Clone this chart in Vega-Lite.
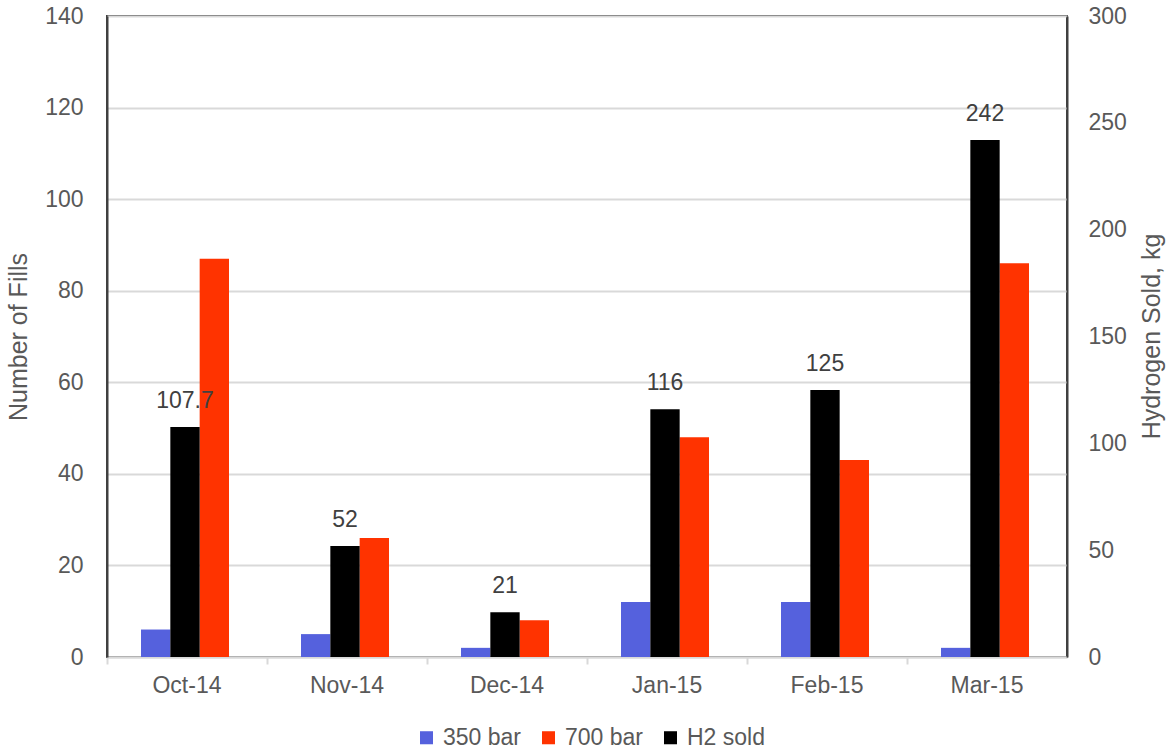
{
  "$schema": "https://vega.github.io/schema/vega-lite/v6.json",
  "width": 960,
  "height": 641,
  "autosize": {"type": "none"},
  "padding": {"left": 107, "top": 16, "right": 103, "bottom": 93},
  "config": {
    "font": "Liberation Sans",
    "view": {"stroke": "#404040", "strokeWidth": 2},
    "axis": {"labelFont": "Liberation Sans", "titleFont": "Liberation Sans", "labelColor": "#595959", "titleColor": "#595959", "labelFontSize": 23, "titleFontSize": 25, "titleFontWeight": "normal"},
    "legend": {"labelFont": "Liberation Sans", "labelColor": "#595959", "labelFontSize": 23}
  },
  "data": {
    "values": [
      {"month": "Oct-14", "series": "350 bar", "value": 6},
      {"month": "Oct-14", "series": "700 bar", "value": 87},
      {"month": "Oct-14", "series": "H2 sold", "value": 107.7, "label": "107.7"},
      {"month": "Nov-14", "series": "350 bar", "value": 5},
      {"month": "Nov-14", "series": "700 bar", "value": 26},
      {"month": "Nov-14", "series": "H2 sold", "value": 52, "label": "52"},
      {"month": "Dec-14", "series": "350 bar", "value": 2},
      {"month": "Dec-14", "series": "700 bar", "value": 8},
      {"month": "Dec-14", "series": "H2 sold", "value": 21, "label": "21"},
      {"month": "Jan-15", "series": "350 bar", "value": 12},
      {"month": "Jan-15", "series": "700 bar", "value": 48},
      {"month": "Jan-15", "series": "H2 sold", "value": 116, "label": "116"},
      {"month": "Feb-15", "series": "350 bar", "value": 12},
      {"month": "Feb-15", "series": "700 bar", "value": 43},
      {"month": "Feb-15", "series": "H2 sold", "value": 125, "label": "125"},
      {"month": "Mar-15", "series": "350 bar", "value": 2},
      {"month": "Mar-15", "series": "700 bar", "value": 86},
      {"month": "Mar-15", "series": "H2 sold", "value": 242, "label": "242"}
    ]
  },
  "encoding": {
    "x": {
      "field": "month", "type": "nominal",
      "sort": ["Oct-14", "Nov-14", "Dec-14", "Jan-15", "Feb-15", "Mar-15"],
      "scale": {"paddingInner": 0, "paddingOuter": 0},
      "axis": {"title": null, "labelAngle": 0, "bandPosition": 0, "ticks": true, "tickSize": 7, "tickColor": "#d9d9d9", "tickWidth": 2, "domainColor": "#d9d9d9", "domainWidth": 2, "labelPadding": 10, "grid": false}
    },
    "xOffset": {
      "field": "series", "type": "nominal",
      "scale": {"domain": ["350 bar", "H2 sold", "700 bar"], "paddingInner": 0, "paddingOuter": 0, "range": [34, 122]}
    },
    "color": {
      "field": "series", "type": "nominal",
      "scale": {"domain": ["350 bar", "700 bar", "H2 sold"], "range": ["#5561DD", "#FF3300", "#000000"]},
      "legend": {"title": null, "orient": "none", "legendX": 308, "legendY": 710, "direction": "horizontal", "symbolType": "square", "symbolSize": 170, "symbolStrokeWidth": 0, "columnPadding": 15, "labelOffset": 5}
    }
  },
  "layer": [
    {
      "transform": [{"filter": "datum.series != 'H2 sold'"}],
      "mark": {"type": "bar"},
      "encoding": {
        "y": {
          "field": "value", "type": "quantitative",
          "scale": {"domain": [0, 140]},
          "axis": {"title": "Number of Fills", "orient": "left", "values": [0, 20, 40, 60, 80, 100, 120, 140], "ticks": false, "domainColor": "#404040", "domainWidth": 2, "gridColor": "#d9d9d9", "gridWidth": 2, "labelPadding": 24, "titlePadding": 13}
        }
      }
    },
    {
      "transform": [{"filter": "datum.series == 'H2 sold'"}],
      "encoding": {
        "y": {
          "field": "value", "type": "quantitative",
          "scale": {"domain": [0, 300]},
          "axis": {"title": "Hydrogen Sold, kg", "orient": "right", "values": [0, 50, 100, 150, 200, 250, 300], "ticks": false, "grid": false, "domainColor": "#404040", "domainWidth": 2, "labelPadding": 21, "titleAngle": -90, "titleX": 97, "titleY": 320, "titleAlign": "center", "titleBaseline": "bottom"}
        }
      },
      "layer": [
        {"mark": {"type": "bar"}},
        {
          "mark": {"type": "text", "baseline": "bottom", "dy": -14, "fontSize": 23, "font": "Liberation Sans"},
          "encoding": {"text": {"field": "label"}, "color": {"value": "#404040"}}
        }
      ]
    }
  ],
  "resolve": {"scale": {"y": "independent"}}
}
